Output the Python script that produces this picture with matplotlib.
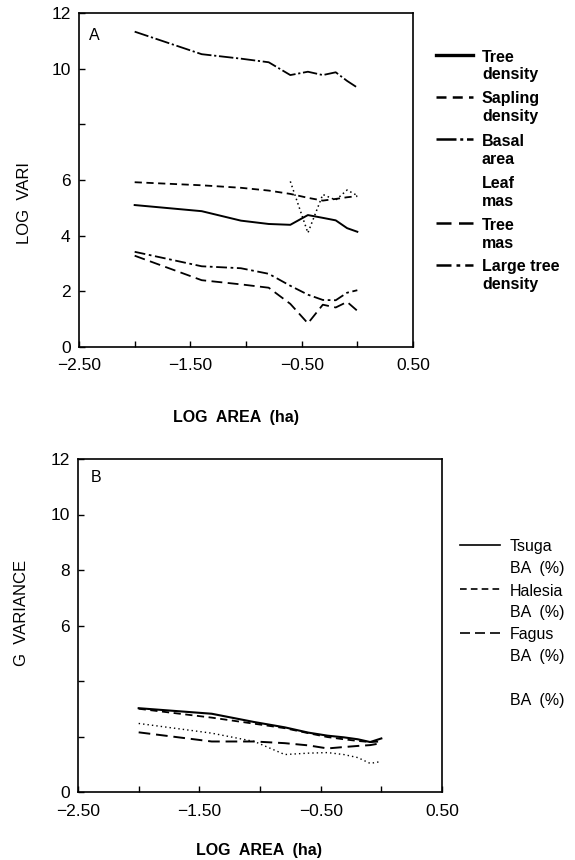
import matplotlib
matplotlib.use("Agg")
import matplotlib.pyplot as plt
from matplotlib.lines import Line2D

plt.rcParams['font.family'] = ['Liberation Sans', 'DejaVu Sans']

# ---------------- data ----------------
log_area = [-2.0, -1.398, -1.046, -0.796, -0.602, -0.444, -0.310, -0.194, -0.092, 0.0]
log_area_leaf = [-0.602, -0.444, -0.310, -0.194, -0.092, 0.0]

# Panel A
tree_density = [5.10, 4.88, 4.54, 4.42, 4.39, 4.74, 4.64, 4.55, 4.27, 4.14]
sapling_density = [5.92, 5.81, 5.72, 5.62, 5.50, 5.36, 5.26, 5.32, 5.38, 5.42]
basal_area = [11.33, 10.52, 10.36, 10.23, 9.77, 9.89, 9.77, 9.87, 9.56, 9.32]
leaf_mass = [5.95, 4.10, 5.48, 5.28, 5.64, 5.44]
tree_mass = [3.28, 2.40, 2.25, 2.13, 1.55, 0.85, 1.52, 1.42, 1.62, 1.30]
large_tree_density = [3.42, 2.90, 2.83, 2.63, 2.20, 1.88, 1.69, 1.68, 1.95, 2.04]

# Panel B
tsuga_ba = [3.02, 2.82, 2.52, 2.33, 2.14, 2.03, 1.97, 1.90, 1.80, 1.93]
halesia_ba = [3.00, 2.68, 2.46, 2.30, 2.12, 1.98, 1.90, 1.84, 1.80, 1.82]
fagus_ba = [2.15, 1.82, 1.82, 1.76, 1.68, 1.57, 1.62, 1.66, 1.69, 1.76]
other_ba = [2.47, 2.12, 1.82, 1.35, 1.40, 1.42, 1.35, 1.24, 1.03, 1.10]

legend_a_labels = [("Tree", "density"), ("Sapling", "density"), ("Basal", "area"),
                   ("Leaf", "mas"), ("Tree", "mas"), ("Large tree", "density")]
legend_b_labels = [("Tsuga", "BA  (%)"), ("Halesia", "BA  (%)"), ("Fagus", "BA  (%)"),
                   ("", "BA  (%)")]

x_ticks = [-2.5, -2.0, -1.5, -1.0, -0.5, 0.0, 0.5]
x_tick_labels = ["\u22122.50", "", "\u22121.50", "", "\u22120.50", "", "0.50"]
y_ticks = [0, 2, 4, 6, 8, 10, 12]
y_tick_labels_a = ["0", "2", "4", "6", "", "10", "12"]
y_tick_labels_b = ["0", "", "", "6", "8", "10", "12"]

# ---------------- figure ----------------
W, H = 575, 860
fig = plt.figure(figsize=(W / 100, H / 100), dpi=100)


def fx(px):
    return px / W


def fy(py):
    return 1 - py / H


axA = fig.add_axes([fx(79), fy(347), fx(413) - fx(79), fy(13) - fy(347)])
axB = fig.add_axes([fx(78), fy(792), fx(442) - fx(78), fy(459) - fy(792)])

styles_a = {
    'tree': dict(color='black', lw=1.4, ls='-'),
    'sapling': dict(color='black', lw=1.3, ls=(0, (4, 2.5))),
    'basal': dict(color='black', lw=1.3, ls=(0, (8, 1.5, 1.2, 1.5))),
    'leaf': dict(color='black', lw=1.1, ls=(0, (1, 2))),
    'treemass': dict(color='black', lw=1.3, ls=(0, (6, 3))),
    'large': dict(color='black', lw=1.3, ls=(0, (6, 2, 1.5, 2))),
}

axA.plot(log_area, basal_area, **styles_a['basal'])
axA.plot(log_area, sapling_density, **styles_a['sapling'])
axA.plot(log_area, tree_density, **styles_a['tree'])
axA.plot(log_area_leaf, leaf_mass, **styles_a['leaf'])
axA.plot(log_area, large_tree_density, **styles_a['large'])
axA.plot(log_area, tree_mass, **styles_a['treemass'])

styles_b = [
    dict(color='black', lw=1.5, ls='-'),
    dict(color='black', lw=1.3, ls=(0, (4, 2.5))),
    dict(color='black', lw=1.4, ls=(0, (6, 3))),
    dict(color='black', lw=1.0, ls=(0, (1, 2.2))),
]
for vals, st in zip([tsuga_ba, halesia_ba, fagus_ba, other_ba], styles_b):
    axB.plot(log_area, vals, **st)

for ax, ylabels, xpad in [(axA, y_tick_labels_a, 8), (axB, y_tick_labels_b, 9)]:
    ax.set_xlim(-2.5, 0.5)
    ax.set_ylim(0, 12)
    ax.set_xticks(x_ticks)
    ax.set_xticklabels(x_tick_labels)
    ax.set_yticks(y_ticks)
    ax.set_yticklabels(ylabels)
    ax.tick_params(axis='both', direction='in', length=4, width=1, labelsize=12.5)
    ax.tick_params(axis='x', pad=xpad)
    ax.tick_params(axis='y', pad=6)
    for sp in ax.spines.values():
        sp.set_linewidth(1.2)

fig.text(fx(94), fy(35), "A", fontsize=11.5, ha='center', va='center')
fig.text(fx(96), fy(477), "B", fontsize=11.5, ha='center', va='center')

# axis labels
fig.text(fx(236), fy(418), "LOG  AREA  (ha)", fontsize=11.5, fontweight='bold',
         ha='center', va='center')
fig.text(fx(259), fy(851), "LOG  AREA  (ha)", fontsize=11.5, fontweight='bold',
         ha='center', va='center')
fig.text(fx(25), fy(203), "LOG  VARI", fontsize=12, rotation=90,
         ha='center', va='center')
fig.text(fx(22), fy(613), "G  VARIANCE", fontsize=12, rotation=90,
         ha='center', va='center')

# legend A (drawn by hand, outside the axes)
leg_a_styles = [styles_a['tree'], styles_a['sapling'], styles_a['basal'],
                None, styles_a['treemass'], styles_a['large']]
for i, ((l1, l2), st) in enumerate(zip(legend_a_labels, leg_a_styles)):
    y1 = 57 + 42 * i
    if st is not None:
        kw = dict(st)
        if kw['ls'] == '-':
            kw['lw'] = 2.4
        else:
            kw['lw'] = 1.8
        fig.add_artist(Line2D([fx(436), fx(473)], [fy(y1 - 2), fy(y1 - 2)],
                              transform=fig.transFigure, **kw))
    fig.text(fx(482), fy(y1), l1, fontsize=11.5, fontweight='bold', va='center', ha='left')
    fig.text(fx(482), fy(y1 + 18), l2, fontsize=11.5, fontweight='bold', va='center', ha='left')

# legend B
for i, ((l1, l2), st) in enumerate(zip(legend_b_labels, styles_b)):
    y1 = 547 + 44 * i
    if l1:
        kw = dict(st)
        kw['lw'] = 1.2
        fig.add_artist(Line2D([fx(460), fx(500)], [fy(y1 - 2), fy(y1 - 2)],
                              transform=fig.transFigure, **kw))
        fig.text(fx(510), fy(y1), l1, fontsize=11.5, va='center', ha='left')
    fig.text(fx(510), fy(y1 + 21), l2, fontsize=11.5, va='center', ha='left')

fig.savefig("out.png", dpi=100)
